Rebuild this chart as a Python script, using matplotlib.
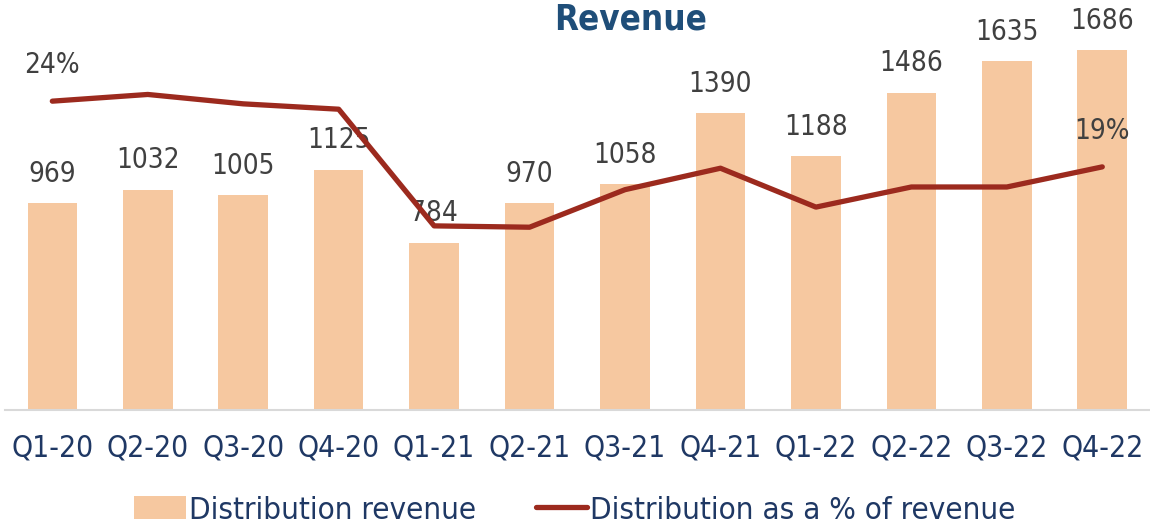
import numpy as np
import matplotlib.pyplot as plt

# data
quarters = ['Q1-20', 'Q2-20', 'Q3-20', 'Q4-20', 'Q1-21', 'Q2-21',
            'Q3-21', 'Q4-21', 'Q1-22', 'Q2-22', 'Q3-22', 'Q4-22']
revenue = [969, 1032, 1005, 1125, 784, 970, 1058, 1390, 1188, 1486, 1635, 1686]
share_pct = [23.9, 24.4, 23.7, 23.3, 14.6, 14.5, 17.3, 18.9, 16.0, 17.5, 17.5, 19.0]
share_labels = {0: '24%', 11: '19%'}

# original uses a narrow font, DejaVu condensed is the closest here
plt.rcParams['font.family'] = ['DejaVu Sans']
plt.rcParams['font.stretch'] = 'condensed'

bar_col = '#F6C8A0'
line_col = '#9C2A1E'
label_col = '#404040'
navy = '#1F3864'

fig = plt.figure(figsize=(11.5, 5.28), dpi=100)
ax = fig.add_axes([0.004, 0.2235, 0.996, 0.7576])
x = np.arange(len(quarters))

ax.bar(x, revenue, width=0.52, color=bar_col, label='Distribution revenue', zorder=1)
for i, v in enumerate(revenue):
    ax.annotate(str(v), (i, v), xytext=(0, 11), textcoords='offset points',
                ha='center', va='bottom', fontsize=20, color=label_col, zorder=5)

ax.set_xlim(-0.5, len(quarters) - 0.5)
ax.set_ylim(0, 1873)
ax.set_yticks([])
ax.set_xticks(x)
ax.set_xticklabels(quarters, fontsize=21.5, color=navy)
ax.tick_params(axis='x', length=0, pad=17)
for s in ['top', 'right', 'left']:
    ax.spines[s].set_visible(False)
ax.spines['bottom'].set_color('#D9D9D9')
ax.spines['bottom'].set_linewidth(1.5)

ax2 = ax.twinx()
ax2.plot(x, share_pct, color=line_col, lw=3.8, solid_capstyle='round',
         label='Distribution as a % of revenue', zorder=3)
ax2.set_ylim(0.87, 30.7)
ax2.set_yticks([])
for s in ax2.spines.values():
    s.set_visible(False)
for i, t in share_labels.items():
    ax2.annotate(t, (i, share_pct[i]), xytext=(0, 16), textcoords='offset points',
                 ha='center', va='bottom', fontsize=20, color=label_col)

fig.text(0.548, 0.963, 'Revenue', ha='center', va='center', fontsize=25,
         fontweight='bold', color='#1F4E79')

h1, l1 = ax.get_legend_handles_labels()
h2, l2 = ax2.get_legend_handles_labels()
fig.legend(h1 + h2, l1 + l2, loc='center', bbox_to_anchor=(0.5, 0.034), ncol=2,
           frameon=False, fontsize=22.5, labelcolor=navy, handlelength=1.65,
           handleheight=0.75, handletextpad=0.1, columnspacing=1.9)

fig.savefig('out.png', dpi=100)
